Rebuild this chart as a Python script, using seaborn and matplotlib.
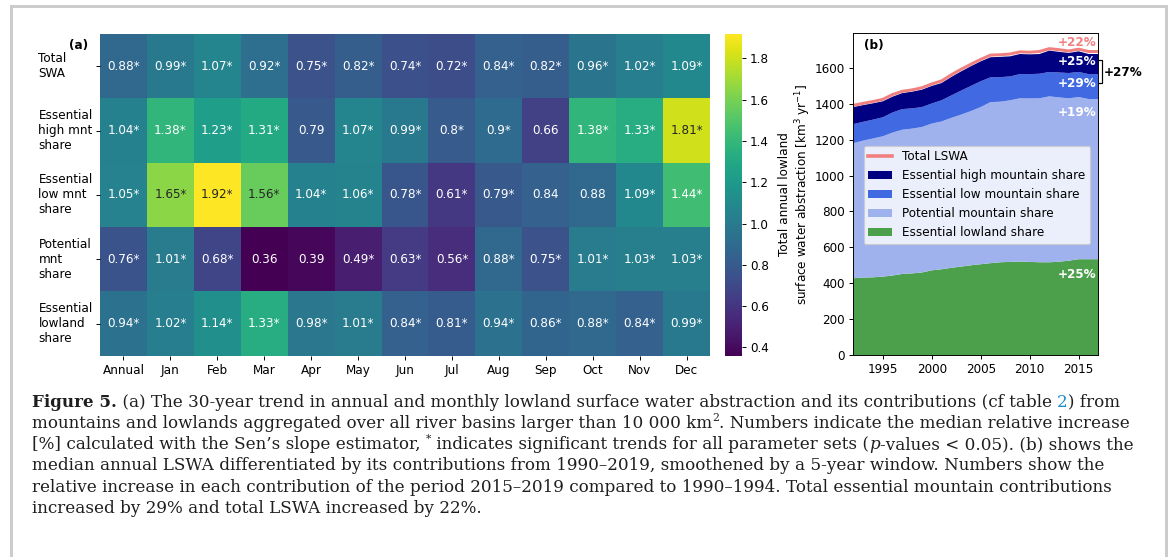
import numpy as np
import pandas as pd
import matplotlib
matplotlib.use("Agg")
import matplotlib.pyplot as plt
import matplotlib.transforms as mtransforms
from matplotlib.lines import Line2D
from matplotlib.patches import Patch
import seaborn as sns

# ---------------- data: panel (a) ----------------
months = ["Annual", "Jan", "Feb", "Mar", "Apr", "May", "Jun",
          "Jul", "Aug", "Sep", "Oct", "Nov", "Dec"]
row_labels = ["Total\nSWA", "Essential\nhigh mnt\nshare", "Essential\nlow mnt\nshare",
              "Potential\nmnt\nshare", "Essential\nlowland\nshare"]

total_swa = [0.88, 0.99, 1.07, 0.92, 0.75, 0.82, 0.74, 0.72, 0.84, 0.82, 0.96, 1.02, 1.09]
high_mnt = [1.04, 1.38, 1.23, 1.31, 0.79, 1.07, 0.99, 0.80, 0.90, 0.66, 1.38, 1.33, 1.81]
low_mnt = [1.05, 1.65, 1.92, 1.56, 1.04, 1.06, 0.78, 0.61, 0.79, 0.84, 0.88, 1.09, 1.44]
potential_mnt = [0.76, 1.01, 0.68, 0.36, 0.39, 0.49, 0.63, 0.56, 0.88, 0.75, 1.01, 1.03, 1.03]
lowland_share = [0.94, 1.02, 1.14, 1.33, 0.98, 1.01, 0.84, 0.81, 0.94, 0.86, 0.88, 0.84, 0.99]

sig_total = [1, 1, 1, 1, 1, 1, 1, 1, 1, 1, 1, 1, 1]
sig_high = [1, 1, 1, 1, 0, 1, 1, 1, 1, 0, 1, 1, 1]
sig_low = [1, 1, 1, 1, 1, 1, 1, 1, 1, 0, 0, 1, 1]
sig_potential = [1, 1, 1, 0, 0, 1, 1, 1, 1, 1, 1, 1, 1]
sig_lowland = [1, 1, 1, 1, 1, 1, 1, 1, 1, 1, 1, 1, 1]

# ---------------- data: panel (b) ----------------
years = [1992, 1993, 1994, 1995, 1996, 1997, 1998, 1999, 2000, 2001, 2002, 2003, 2004,
         2005, 2006, 2007, 2008, 2009, 2010, 2011, 2012, 2013, 2014, 2015, 2016, 2017]
ess_lowland = [428, 432, 433, 437, 443, 452, 455, 460, 472, 478, 486, 493, 500,
               506, 512, 517, 519, 521, 519, 517, 517, 520, 526, 534, 534, 534]
potential_share = [753, 763, 774, 782, 797, 804, 807, 811, 818, 824, 836, 847, 860,
                   876, 898, 895, 901, 910, 911, 914, 925, 916, 905, 904, 893, 893]
ess_low_share = [106, 105, 105, 106, 112, 115, 113, 111, 112, 118, 125, 134, 140,
                 144, 138, 137, 133, 135, 136, 137, 136, 139, 141, 140, 139, 139]
ess_high_share = [95, 93, 91, 89, 88, 89, 93, 97, 98, 96, 103, 107, 110,
                  111, 112, 113, 112, 112, 110, 110, 119, 115, 112, 115, 112, 112]
total_lswa = [1392, 1403, 1413, 1425, 1452, 1470, 1478, 1490, 1511, 1528, 1562, 1593, 1621,
              1648, 1672, 1674, 1678, 1690, 1688, 1692, 1708, 1702, 1695, 1705, 1692, 1692]

b_labels = ["Total LSWA", "Essential high mountain share", "Essential low mountain share",
            "Potential mountain share", "Essential lowland share"]
pct_labels = ["+22%", "+25%", "+29%", "+19%", "+25%"]
pct_y = [1743, 1637, 1516, 1352, 450]
pct_total_mnt = "+27%"

# ---------------- figure ----------------
W, H = 1173, 557
DPI = 86
fig = plt.figure(figsize=(W / DPI, H / DPI), dpi=DPI)
fig.patch.set_facecolor("white")


def px_rect(l, t, r, b):
    return [l / W, 1 - b / H, (r - l) / W, (b - t) / H]


ax_a = fig.add_axes(px_rect(100, 34, 710, 355.7))
cax = fig.add_axes(px_rect(725, 33.5, 741.7, 355.7))

vals = np.array([total_swa, high_mnt, low_mnt, potential_mnt, lowland_share])
sigs = np.array([sig_total, sig_high, sig_low, sig_potential, sig_lowland])
annot = np.empty(vals.shape, dtype=object)
for i in range(vals.shape[0]):
    for j in range(vals.shape[1]):
        annot[i, j] = f"{vals[i, j]:g}" + ("*" if sigs[i, j] else "")
df = pd.DataFrame(vals, index=row_labels, columns=months)

sns.heatmap(df, ax=ax_a, cbar_ax=cax, cmap="viridis", annot=annot, fmt="",
            annot_kws={"fontsize": 10})
ax_a.set_xticklabels(months, rotation=0, fontsize=10)
ax_a.set_yticklabels(row_labels, rotation=0, ha="left", va="center",
                     multialignment="left", fontsize=10)
ax_a.tick_params(axis="y", pad=48)
cax.tick_params(labelsize=10)
fig.text(79 / W, 1 - 45.5 / H, "(a)", fontweight="bold", fontsize=10,
         ha="center", va="center")

# ---------------- panel (b) ----------------
ax_b = fig.add_axes(px_rect(853.3, 33.3, 1098.3, 355))
c_green = "#4ca04c"
c_light = "#a0b2ee"
c_royal = "#4169e1"
c_navy = "#000080"
c_total = "lightcoral"
ax_b.stackplot(years, ess_lowland, potential_share, ess_low_share, ess_high_share,
               colors=[c_green, c_light, c_royal, c_navy], lw=0)
sns.lineplot(x=years, y=total_lswa, ax=ax_b, color=c_total, lw=2.5)
ax_b.set_xlim(years[0], years[-1])
ax_b.set_xticks([1995, 2000, 2005, 2010, 2015])
ax_b.set_yticks([0, 200, 400, 600, 800, 1000, 1200, 1400, 1600])
ax_b.tick_params(labelsize=10)
ax_b.set_ylabel("Total annual lowland\nsurface water abstraction [km$^3$ yr$^{-1}$]",
                fontsize=10, labelpad=1.5)
ax_b.text(0.044, 0.961, "(b)", transform=ax_b.transAxes, fontweight="bold",
          fontsize=10, ha="left", va="center")

handles = [Line2D([], [], color=c_total, lw=3),
           Patch(facecolor=c_navy), Patch(facecolor=c_royal),
           Patch(facecolor=c_light), Patch(facecolor=c_green)]
ax_b.legend(handles, b_labels, loc="center", bbox_to_anchor=(0.504, 0.498),
            fontsize=10)

pct_colors = [c_total, "white", "white", "white", "white"]
for lab, yv, col in zip(pct_labels, pct_y, pct_colors):
    ax_b.text(2016.8, yv, lab, color=col, fontweight="bold", fontsize=10,
              ha="right", va="center")

blend = mtransforms.blended_transform_factory(ax_b.transAxes, ax_b.transData)
ax_b.add_line(Line2D([1.004, 1.016, 1.016, 1.004], [1646, 1646, 1516, 1516],
                     transform=blend, color="black", lw=1, clip_on=False))
ax_b.text(1.021, 1576, pct_total_mnt, transform=blend, fontweight="bold",
          fontsize=10, ha="left", va="center", clip_on=False)

# ---------------- page frame ----------------
frame_c = "#cccccc"
fig.add_artist(Line2D([11 / W, 11 / W], [0, 1 - 6 / H], transform=fig.transFigure,
                      color=frame_c, lw=2.5))
fig.add_artist(Line2D([11 / W, 1166 / W], [1 - 6 / H, 1 - 6 / H],
                      transform=fig.transFigure, color=frame_c, lw=2.5))
fig.add_artist(Line2D([1166 / W, 1166 / W], [0, 1 - 6 / H], transform=fig.transFigure,
                      color=frame_c, lw=2.5))

# ---------------- caption ----------------
cap_family = "DejaVu Serif"
cap_color = "#1e1e1e"
link_color = "#1f8ccf"
caption_lines = [
    [("Figure 5.", "b"), (" (a) The 30-year trend in annual and monthly lowland surface "
                          "water abstraction and its contributions (cf table ", "n"),
     ("2", "link"), (") from", "n")],
    [("mountains and lowlands aggregated over all river basins larger than 10 000 km", "n"),
     ("2", "sup"), (". Numbers indicate the median relative increase", "n")],
    [("[%] calculated with the Sen\u2019s slope estimator, ", "n"), ("*", "sup"),
     (" indicates significant trends for all parameter sets (", "n"), ("p", "i"),
     ("-values < 0.05). (b) shows the", "n")],
    [("median annual LSWA differentiated by its contributions from 1990\u20132019, "
      "smoothened by a 5-year window. Numbers show the", "n")],
    [("relative increase in each contribution of the period 2015\u20132019 compared to "
      "1990\u20131994. Total essential mountain contributions", "n")],
    [("increased by 29% and total LSWA increased by 22%.", "n")],
]

renderer = fig.canvas.get_renderer()


def style_kw(st, size):
    kw = dict(family=cap_family, color=cap_color, fontsize=size)
    if st == "b":
        kw["fontweight"] = "bold"
    elif st == "i":
        kw["fontstyle"] = "italic"
    elif st == "link":
        kw["color"] = link_color
    elif st == "sup":
        kw["fontsize"] = size * 0.65
    return kw


def seg_width(s, kw):
    t1 = fig.text(0, 0, "l" + s + "l", **kw)
    t2 = fig.text(0, 0, "ll", **kw)
    w = (t1.get_window_extent(renderer).width - t2.get_window_extent(renderer).width)
    t1.remove()
    t2.remove()
    return w


base = 12.0
w1 = sum(seg_width(s, style_kw(st, base)) for s, st in caption_lines[0])
cap_size = base * (1092.0 / w1)
cap_size = min(max(cap_size, 10.0), 16.0)

x0 = 32.0
for i, line in enumerate(caption_lines):
    y_px = 406.7 + 21.2 * i
    x = x0
    for s, st in line:
        kw = style_kw(st, cap_size)
        yy = y_px
        if st == "sup":
            yy = y_px - cap_size * 0.42 * DPI / 72
        fig.text(x / W, 1 - yy / H, s, ha="left", va="baseline", **kw)
        x += seg_width(s, kw)

fig.savefig("out.png", dpi=DPI, facecolor="white")
